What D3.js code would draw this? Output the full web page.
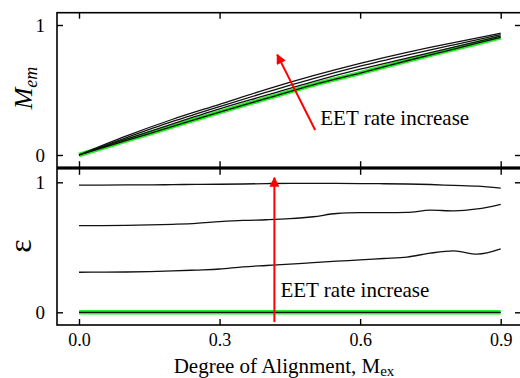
<!DOCTYPE html>
<html>
<head>
<meta charset="utf-8">
<script src="https://cdn.jsdelivr.net/npm/d3@7"></script>
<style>
  body { margin: 0; background: #fff; }
</style>
</head>
<body>
<svg id="chart" width="520" height="378"></svg>
<script>
// degree of alignment (x) for each panel
const xTop = [0, 0.1, 0.2, 0.3, 0.4, 0.5, 0.6, 0.7, 0.8, 0.9]
const xBottom = [0, 0.05, 0.1, 0.15, 0.2, 0.25, 0.3, 0.35, 0.4, 0.45, 0.5, 0.55, 0.6, 0.65, 0.7, 0.75, 0.8, 0.85, 0.9]

// M_em, lowest EET rate first (the green one)
const memRate0 = [0, 0.11, 0.22, 0.33, 0.435, 0.54, 0.63, 0.725, 0.815, 0.905]
const memRate1 = [0, 0.12, 0.24, 0.355, 0.46, 0.565, 0.66, 0.745, 0.83, 0.915]
const memRate2 = [0, 0.132, 0.258, 0.373, 0.483, 0.588, 0.683, 0.768, 0.848, 0.926]
const memRate3 = [0, 0.145, 0.275, 0.39, 0.505, 0.61, 0.705, 0.79, 0.865, 0.937]

// epsilon, same order
const epsRate0 = [0, 0, 0, 0, 0, 0, 0, 0, 0, 0, 0, 0, 0, 0, 0, 0, 0, 0, 0]
const epsRate1 = [0.308, 0.309, 0.31, 0.313, 0.318, 0.325, 0.333, 0.35, 0.36, 0.37, 0.382, 0.393, 0.403, 0.414, 0.425, 0.455, 0.472, 0.447, 0.487]
const epsRate2 = [0.666, 0.667, 0.669, 0.672, 0.677, 0.684, 0.697, 0.707, 0.712, 0.72, 0.735, 0.76, 0.766, 0.767, 0.768, 0.786, 0.78, 0.795, 0.831]
const epsRate3 = [0.979, 0.979, 0.98, 0.98, 0.982, 0.984, 0.985, 0.987, 0.99, 0.992, 0.992, 0.991, 0.99, 0.989, 0.987, 0.983, 0.976, 0.97, 0.955]

const xTicks = [0, 0.3, 0.6, 0.9]
const yTicks = [0, 1]
const arrowLabel = 'EET rate increase'

const serif = 'Liberation Serif, DejaVu Serif, serif'
const frame = { left: 57, right: 521 }
const topPanel = { top: 12.7, bottom: 167.2 }
const bottomPanel = { top: 168.8, bottom: 325 }

const svg = d3.select('#chart').style('font-family', serif)

const x = d3.scaleLinear().domain([0, 0.9]).range([79, 500.7])
const yTop = d3.scaleLinear().domain([0, 1]).range([155, 25])
const yBot = d3.scaleLinear().domain([0, 1]).range([312.3, 182.3])

svg.append('defs').append('marker')
    .attr('id', 'head')
    .attr('viewBox', '0 0 10 10')
    .attr('refX', 9).attr('refY', 5)
    .attr('markerWidth', 5.5).attr('markerHeight', 5)
    .attr('markerUnits', 'strokeWidth')
    .attr('orient', 'auto')
  .append('path')
    .attr('d', 'M0,0 L10,5 L0,10 z')
    .attr('fill', '#ff0000')

function drawSeries(xs, series, y) {
  const line = d3.line()
    .x((d, i) => x(xs[i]))
    .y((d) => y(d))
    .curve(d3.curveMonotoneX)

  // green halo under the lowest rate
  svg.append('path')
    .attr('d', line(series[0]))
    .attr('fill', 'none')
    .attr('stroke', '#22ee22')
    .attr('stroke-width', 4.5)

  series.forEach((s) => {
    svg.append('path')
      .attr('d', line(s))
      .attr('fill', 'none')
      .attr('stroke', '#111')
      .attr('stroke-width', 1.3)
  })
}

drawSeries(xTop, [memRate0, memRate1, memRate2, memRate3], yTop)
drawSeries(xBottom, [epsRate0, epsRate1, epsRate2, epsRate3], yBot)

// frames
;[topPanel, bottomPanel].forEach((p) => {
  svg.append('rect')
    .attr('x', frame.left)
    .attr('y', p.top)
    .attr('width', frame.right - frame.left)
    .attr('height', p.bottom - p.top)
    .attr('fill', 'none')
    .attr('stroke', '#000')
    .attr('stroke-width', 1.6)
})

function styleAxis(g, labels, size) {
  g.attr('font-family', null).style('font-family', serif)
  g.select('.domain').remove()
  g.selectAll('.tick line').attr('stroke', '#000').attr('stroke-width', 1.4)
  if (!labels) g.selectAll('.tick text').remove()
  else g.selectAll('.tick text').attr('font-size', size).attr('fill', '#000')
}

const tickFmt = d3.format('.1f')
const intFmt = d3.format('d')

svg.append('g').attr('transform', `translate(0,${topPanel.top})`)
  .call(d3.axisTop(x).tickValues(xTicks).tickSize(-6))
  .call((g) => styleAxis(g, false))
svg.append('g').attr('transform', `translate(0,${topPanel.bottom})`)
  .call(d3.axisBottom(x).tickValues(xTicks).tickSize(-6))
  .call((g) => styleAxis(g, false))
svg.append('g').attr('transform', `translate(0,${bottomPanel.top})`)
  .call(d3.axisTop(x).tickValues(xTicks).tickSize(-6))
  .call((g) => styleAxis(g, false))
svg.append('g').attr('transform', `translate(0,${bottomPanel.bottom})`)
  .call(d3.axisBottom(x).tickValues(xTicks).tickFormat(tickFmt).tickSize(-6).tickPadding(8))
  .call((g) => styleAxis(g, true, 18))

;[yTop, yBot].forEach((y) => {
  svg.append('g').attr('transform', `translate(${frame.left},0)`)
    .call(d3.axisLeft(y).tickValues(yTicks).tickFormat(intFmt).tickSize(-6).tickPadding(12))
    .call((g) => styleAxis(g, true, 19))
  svg.append('g').attr('transform', `translate(${frame.right},0)`)
    .call(d3.axisRight(y).tickValues(yTicks).tickSize(-6))
    .call((g) => styleAxis(g, false))
})

// arrows and notes
svg.append('line')
  .attr('x1', x(0.504)).attr('y1', yTop(0.192))
  .attr('x2', x(0.423)).attr('y2', yTop(0.772))
  .attr('stroke', '#ff0000').attr('stroke-width', 2)
  .attr('marker-end', 'url(#head)')
svg.append('text')
  .attr('x', x(0.515)).attr('y', yTop(0.231))
  .attr('font-size', 21)
  .text(arrowLabel)

svg.append('line')
  .attr('x1', x(0.417)).attr('y1', yBot(-0.075))
  .attr('x2', x(0.417)).attr('y2', yBot(1.035))
  .attr('stroke', '#ff0000').attr('stroke-width', 2)
  .attr('marker-end', 'url(#head)')
svg.append('text')
  .attr('x', x(0.43)).attr('y', yBot(0.12))
  .attr('font-size', 21)
  .text(arrowLabel)

// axis titles
const memLabel = svg.append('text')
  .attr('transform', 'translate(32,88) rotate(-90)')
  .attr('text-anchor', 'middle')
  .attr('font-size', 26)
  .attr('font-style', 'italic')
memLabel.append('tspan').text('M')
memLabel.append('tspan').attr('font-size', 18).attr('dy', 5).text('em')

svg.append('text')
  .attr('transform', 'translate(31,246) rotate(-90)')
  .attr('text-anchor', 'middle')
  .attr('font-size', 32)
  .text('ε')

const xLabel = svg.append('text')
  .attr('x', 284).attr('y', 373)
  .attr('text-anchor', 'middle')
  .attr('font-size', 21)
xLabel.append('tspan').text('Degree of Alignment, M')
xLabel.append('tspan').attr('font-size', 15).attr('dy', 3).text('ex')
</script>
</body>
</html>
